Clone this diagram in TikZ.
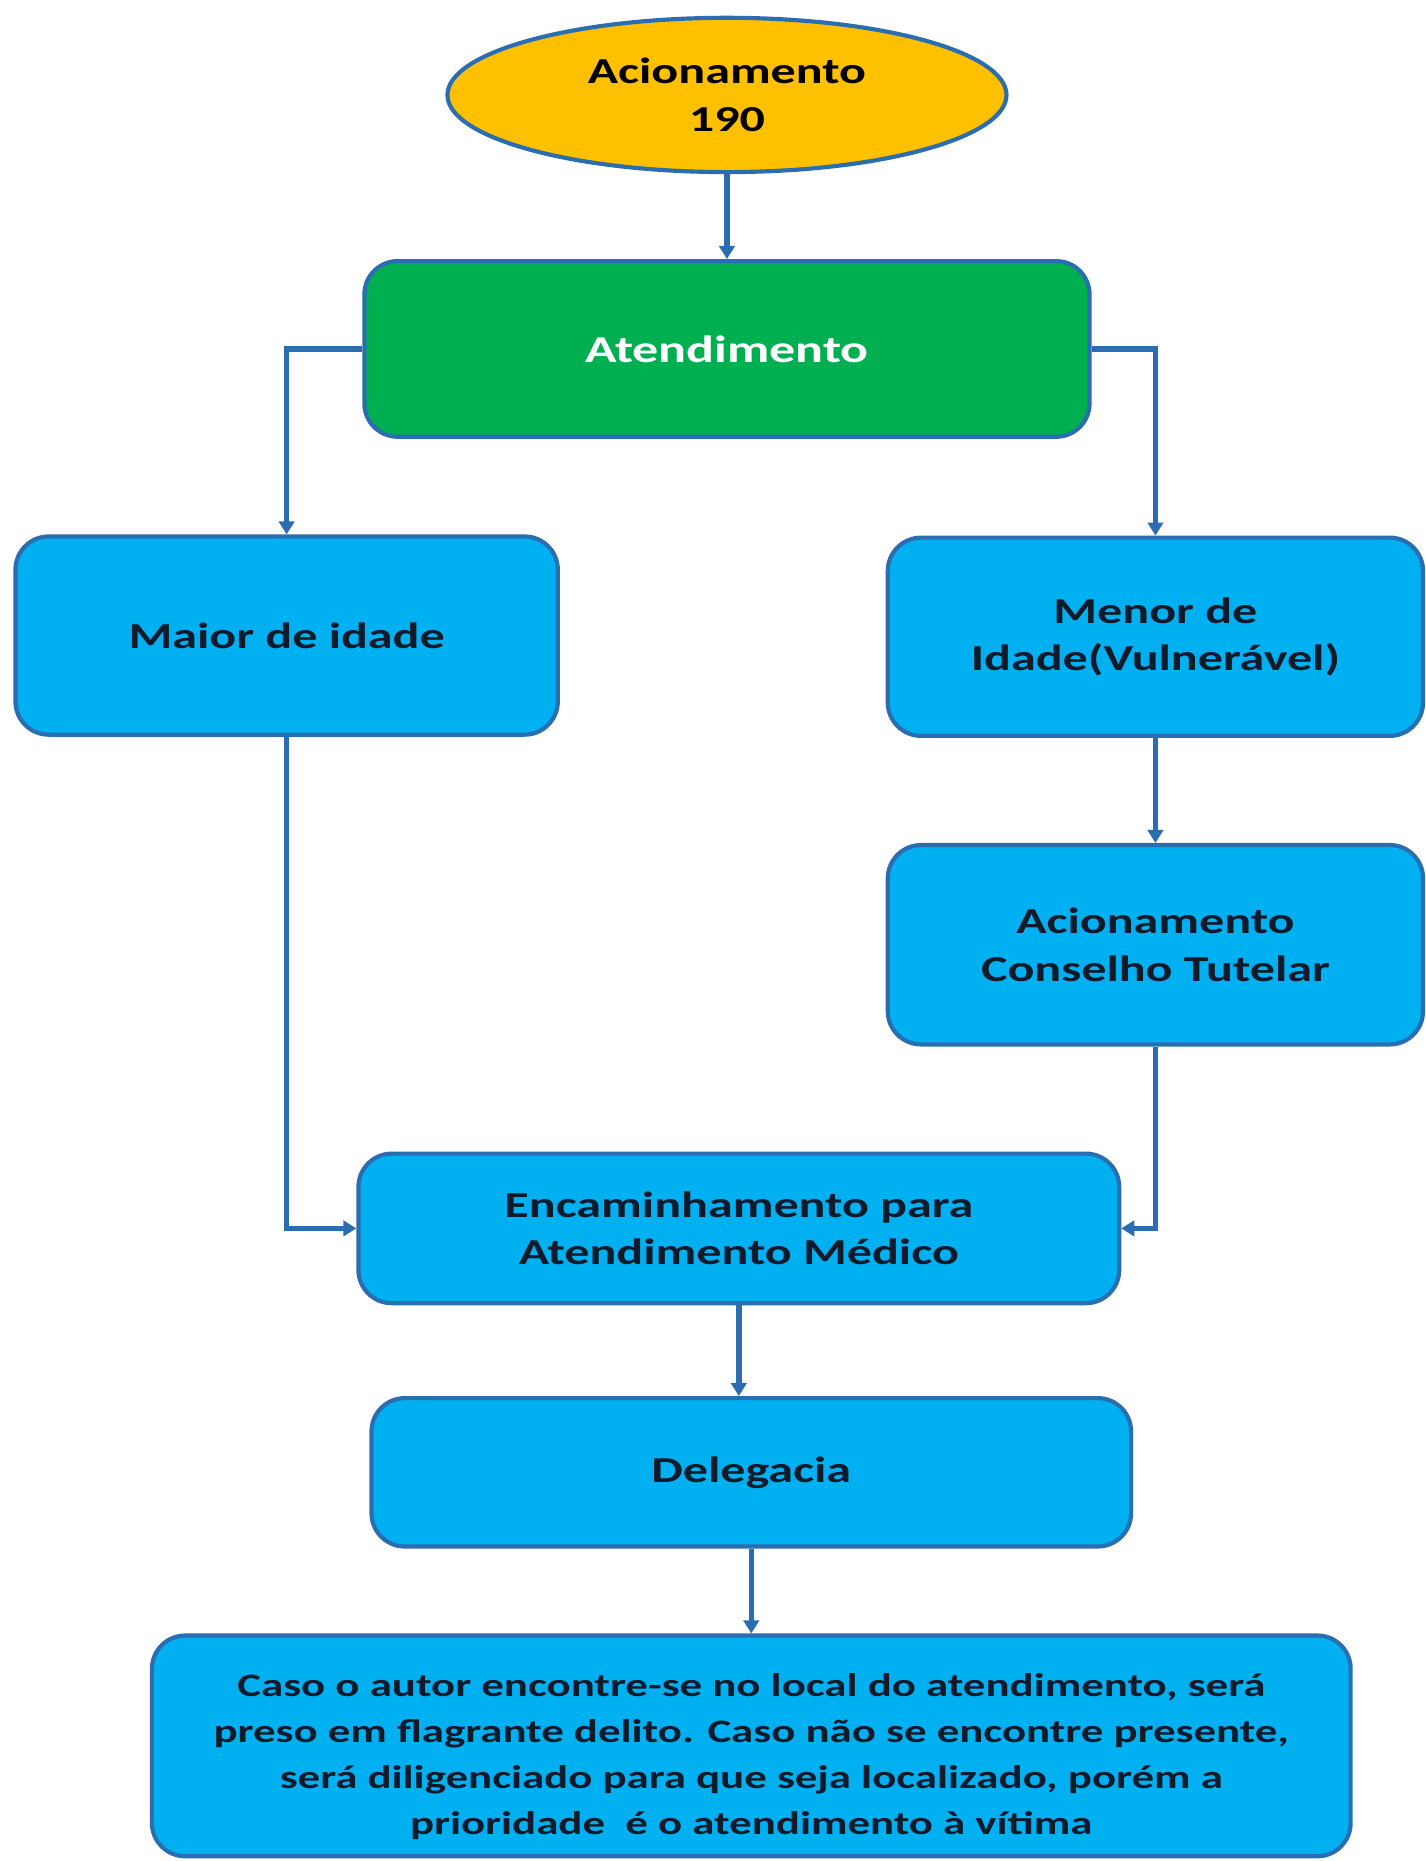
\documentclass[tikz,border=0pt]{standalone}
\usepackage{fontspec}
\setmainfont{Carlito}[FakeStretch=1.37]
\usetikzlibrary{arrows.meta,shapes.geometric}
\definecolor{bordc}{HTML}{2A6DB0}
\definecolor{linec}{HTML}{2A6DB0}
\definecolor{ellfill}{HTML}{FFC000}
\definecolor{greenfill}{HTML}{00B050}
\definecolor{bluefill}{HTML}{00B0F0}
\definecolor{txt}{HTML}{0F1A2A}
\begin{document}
\begin{tikzpicture}[x=1pt,y=-1pt,
  box/.style={draw=bordc, line width=3.5pt, rounded corners=28pt, fill=bluefill,
    inner sep=0pt, align=center, text=txt,
    font=\fontsize{30.8}{40}\selectfont\bfseries},
  conn/.style={draw=linec, line width=4.5pt, -{Triangle[length=11pt,width=13pt]}}]
\useasboundingbox (0,0) rectangle (1201,1568);
\node[ellipse, draw=bordc, line width=3.5pt, fill=ellfill, minimum width=471pt, minimum height=130pt,
  inner sep=0pt, align=center, text=black, font=\fontsize{30.8}{40}\selectfont\bfseries]
  (ell) at (612.5,80) {Acionamento\\190};
\node[box, fill=greenfill, text=white, minimum width=611pt, minimum height=148pt,
  font=\fontsize{32}{40}\selectfont\bfseries] (att) at (612.5,294) {Atendimento};
\node[box, minimum width=457pt, minimum height=167pt] (maior) at (241.5,535.5) {Maior de idade};
\node[box, minimum width=451pt, minimum height=167pt] (menor) at (973.5,536.5) {Menor de\\Idade(Vulnerável)};
\node[box, minimum width=451pt, minimum height=168pt] (cons) at (973.5,796) {Acionamento\\Conselho Tutelar};
\node[box, minimum width=641pt, minimum height=126pt] (enc) at (622.5,1035) {Encaminhamento para\\Atendimento Médico};
\node[box, minimum width=640pt, minimum height=125pt] (deleg) at (633,1240.5) {Delegacia};
\node[box, minimum width=1010pt, minimum height=186pt] (fin) at (633,1471) {};
\node[align=center, text=txt, inner sep=0pt, font=\fontsize{27.6}{38.7}\selectfont\bfseries]
  (fintext) at ([yshift=-9pt]fin.center)
  {Caso o autor encontre-se no local do atendimento, será\\preso em flagrante delito. Caso não se encontre presente,\\será diligenciado para que seja localizado, porém a\\prioridade \ é o atendimento à vítima};
\draw[conn] (ell.south) -- (att.north);
\draw[conn] (att.west) -| (maior.north);
\draw[conn] (att.east) -| (menor.north);
\draw[conn] (menor.south) -- (cons.north);
\draw[conn] (maior.south) |- (enc.west);
\draw[conn] (cons.south) |- (enc.east);
\draw[conn] (enc.south) -- (enc.south |- deleg.north);
\draw[conn] (deleg.south) -- (fin.north);
\end{tikzpicture}
\end{document}
